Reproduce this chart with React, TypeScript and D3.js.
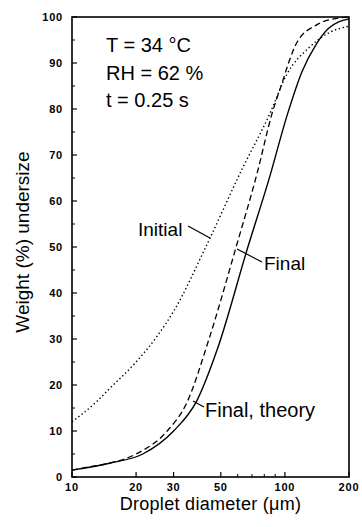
import React from 'react';
import * as d3 from 'd3';

// droplet diameter (um) / weight % undersize
const initialD = [10, 13, 15, 20, 25, 30, 43, 63, 85, 102, 131, 163, 200];
const initialW = [12, 16.3, 19.2, 25, 30.5, 36, 50.5, 67, 79, 87.5, 93.5, 96.7, 98];
const finalD = [10, 12, 15, 20, 28, 34.5, 44, 59, 74, 87, 98, 104, 114, 141, 175, 200];
const finalW = [1.5, 2.2, 3, 5, 10, 16, 30, 50, 66, 79, 86.3, 90, 94.5, 98.3, 99.7, 100];
const theoryD = [10, 15, 21.5, 30, 38.5, 48, 67, 84, 103, 120, 140, 160, 200];
const theoryW = [1.5, 3, 5, 10, 16.5, 27.6, 50, 64.6, 79, 88, 94, 97.5, 99.6];

const xTicks = [10, 20, 30, 50, 100, 200];
const xMinor = [60, 70, 80, 90];
const yTicks = [0, 10, 20, 30, 40, 50, 60, 70, 80, 90, 100];
const yMinor = [5, 15, 25, 35, 45, 55, 65, 75, 85, 95];
const conditions = ['T = 34 \u00B0C', 'RH = 62 %', 't = 0.25 s'];

const W = 362, H = 527;
const m = { left: 72, right: 349, top: 17, bottom: 477 };
const font = '"Liberation Sans", Arial, Helvetica, sans-serif';

export default function App() {
  const x = d3.scaleLog().domain([10, 200]).range([m.left, m.right]);
  const y = d3.scaleLinear().domain([0, 100]).range([m.bottom, m.top]);

  const line = d3.line<[number, number]>()
    .x(d => x(d[0]))
    .y(d => y(d[1]))
    .curve(d3.curveMonotoneX);

  const zip = (a: number[], b: number[]) => a.map((v, i) => [v, b[i]] as [number, number]);

  return (
    <svg width={W} height={H} style={{ position: 'absolute', left: 0, top: 0, background: '#fff' }}
      fontFamily={font}>
      {/* curves */}
      <path d={line(zip(initialD, initialW)) || ''} fill="none" stroke="#000" strokeWidth={1.4}
        strokeDasharray="1.4,2.6" />
      <path d={line(zip(finalD, finalW)) || ''} fill="none" stroke="#000" strokeWidth={1.3}
        strokeDasharray="6,3.5" />
      <path d={line(zip(theoryD, theoryW)) || ''} fill="none" stroke="#000" strokeWidth={1.4} />

      {/* frame */}
      <rect x={m.left} y={m.top} width={m.right - m.left} height={m.bottom - m.top}
        fill="none" stroke="#000" strokeWidth={1.6} />

      {/* y ticks */}
      {yTicks.map(t => (
        <g key={'y' + t}>
          <line x1={m.left} x2={m.left + 5} y1={y(t)} y2={y(t)} stroke="#000" strokeWidth={1.2} />
          <text x={63} y={y(t)} dy="0.36em" textAnchor="end" fontSize={11} fontWeight="bold"
            letterSpacing={0.8}>{t}</text>
        </g>
      ))}
      {yMinor.map(t => (
        <line key={'ym' + t} x1={m.left} x2={m.left + 3} y1={y(t)} y2={y(t)} stroke="#000" strokeWidth={1} />
      ))}

      {/* x ticks */}
      {xTicks.map(t => (
        <g key={'x' + t}>
          <line x1={x(t)} x2={x(t)} y1={m.bottom} y2={m.bottom - 5} stroke="#000" strokeWidth={1.2} />
          <text x={x(t)} y={491} textAnchor="middle" fontSize={11} fontWeight="bold"
            letterSpacing={0.8}>{t}</text>
        </g>
      ))}
      {xMinor.map(t => (
        <line key={'xm' + t} x1={x(t)} x2={x(t)} y1={m.bottom} y2={m.bottom - 3} stroke="#000" strokeWidth={1} />
      ))}

      {/* axis titles */}
      <text x={(m.left + m.right) / 2} y={510} textAnchor="middle" fontSize={18} letterSpacing={0.3}>
        Droplet diameter ({'\u03BC'}m)
      </text>
      <text transform={`translate(29,${242}) rotate(-90)`} textAnchor="middle" fontSize={19}>
        Weight (%) undersize
      </text>

      {/* conditions */}
      {conditions.map((c, i) => (
        <text key={c} x={106} y={52 + i * 27.5} fontSize={20}>{c}</text>
      ))}

      {/* curve labels */}
      <text x={138} y={236} fontSize={19}>Initial</text>
      <line x1={188} y1={226} x2={210} y2={238} stroke="#000" strokeWidth={1.2} />
      <text x={264} y={270} fontSize={19}>Final</text>
      <line x1={237} y1={249} x2={262} y2={262} stroke="#000" strokeWidth={1.2} />
      <text x={205} y={417} fontSize={20}>Final, theory</text>
      <line x1={193} y1={401} x2={204} y2={407} stroke="#000" strokeWidth={1.2} />
    </svg>
  );
}
